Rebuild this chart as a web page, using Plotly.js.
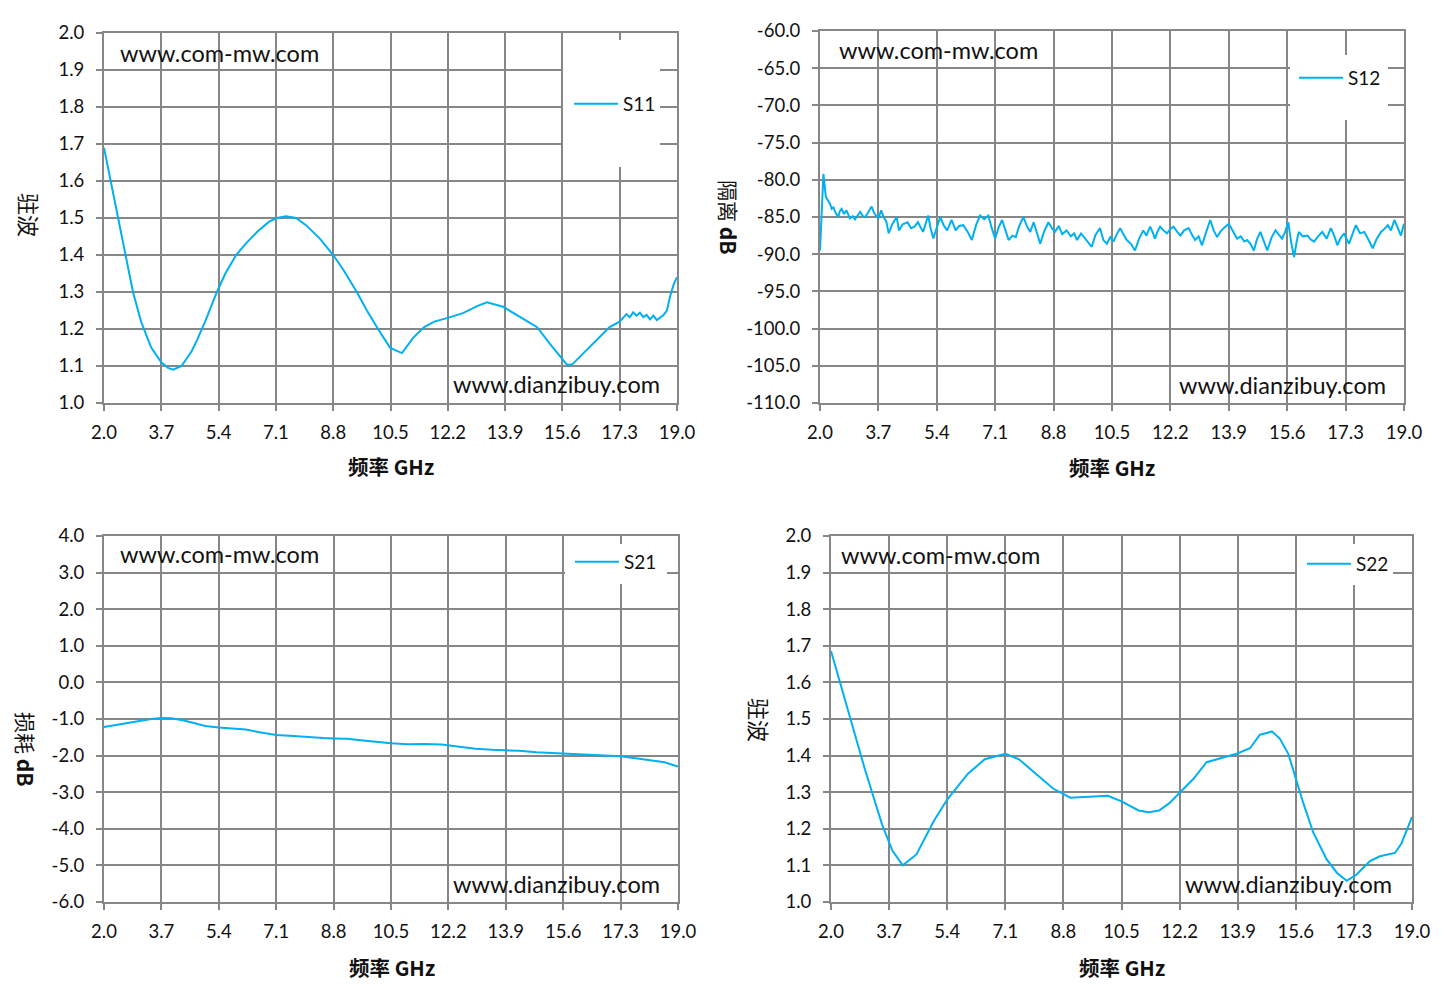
<!DOCTYPE html>
<html>
<head>
<meta charset="utf-8">
<script src="https://cdn.plot.ly/plotly-3.0.1.min.js"></script>
<style>
  html, body { margin: 0; padding: 0; background: #fff; }
  #chart { width: 1445px; height: 999px; }
</style>
</head>
<body>
<div id="chart"></div>
<script>
// S11 驻波
var s11_freq = [2.0, 2.2, 2.4, 2.6, 2.86, 3.1, 3.4, 3.7, 3.9, 4.05, 4.3, 4.6, 4.76, 5.0, 5.35, 5.6, 5.92, 6.2, 6.57, 6.9,
  7.13, 7.4, 7.7, 8.0, 8.4, 8.8, 9.1, 9.5, 9.8, 10.13, 10.49, 10.84, 11.17, 11.5, 11.8, 12.2, 12.65, 13.07, 13.36, 13.84,
  14.34, 14.85, 15.23, 15.53, 15.74, 15.9, 16.12, 16.5, 17.0, 17.3, 17.5, 17.6, 17.7, 17.8, 17.9, 18.0, 18.1, 18.2, 18.3, 18.4,
  18.5, 18.6, 18.7, 18.8, 18.9, 19.0];
var s11_vswr = [1.69, 1.60, 1.50, 1.42, 1.30, 1.22, 1.15, 1.11, 1.095, 1.09, 1.10, 1.14, 1.17, 1.22, 1.30, 1.35, 1.40, 1.43, 1.465, 1.49,
  1.50, 1.505, 1.50, 1.48, 1.445, 1.40, 1.36, 1.30, 1.25, 1.20, 1.149, 1.135, 1.176, 1.205, 1.22, 1.23, 1.243, 1.262, 1.272, 1.26,
  1.232, 1.205, 1.16, 1.125, 1.103, 1.105, 1.125, 1.16, 1.205, 1.22, 1.24, 1.232, 1.245, 1.236, 1.244, 1.232, 1.238, 1.226, 1.236, 1.224,
  1.232, 1.238, 1.25, 1.29, 1.32, 1.34];

// S12 隔离 dB
var s12_freq = [2.0, 2.05, 2.1, 2.17, 2.23, 2.29, 2.34, 2.39, 2.46, 2.53, 2.58, 2.63, 2.7, 2.77, 2.87, 2.95, 3.02, 3.1, 3.17, 3.25,
  3.32, 3.4, 3.5, 3.58, 3.7, 3.78, 3.85, 3.93, 4.0, 4.1, 4.23, 4.3, 4.4, 4.55, 4.65, 4.75, 4.85, 5.0, 5.15, 5.22,
  5.3, 5.4, 5.5, 5.6, 5.7, 5.83, 5.95, 6.05, 6.17, 6.3, 6.42, 6.55, 6.66, 6.78, 6.9, 7.0, 7.1, 7.2, 7.3, 7.4,
  7.49, 7.6, 7.7, 7.8, 7.92, 8.02, 8.12, 8.22, 8.3, 8.41, 8.52, 8.65, 8.75, 8.84, 8.95, 9.05, 9.18, 9.3, 9.4, 9.48,
  9.6, 9.7, 9.8, 9.91, 10.02, 10.15, 10.25, 10.35, 10.45, 10.54, 10.64, 10.74, 10.84, 10.93, 11.05, 11.17, 11.28, 11.41, 11.5, 11.61,
  11.68, 11.75, 11.82, 11.9, 12.0, 12.1, 12.2, 12.29, 12.4, 12.49, 12.6, 12.73, 12.83, 12.92, 13.02, 13.12, 13.25, 13.36, 13.46, 13.56,
  13.65, 13.75, 13.9, 14.02, 14.14, 14.25, 14.35, 14.43, 14.53, 14.63, 14.72, 14.82, 14.92, 15.02, 15.14, 15.26, 15.36, 15.45, 15.55, 15.63,
  15.72, 15.8, 15.88, 15.94, 16.05, 16.19, 16.28, 16.38, 16.5, 16.62, 16.75, 16.87, 16.96, 17.06, 17.16, 17.26, 17.33, 17.4, 17.5, 17.6,
  17.72, 17.84, 17.96, 18.09, 18.2, 18.33, 18.43, 18.53, 18.62, 18.72, 18.82, 18.91, 19.0];
var s12_db = [-89.5, -84.0, -79.2, -82.3, -82.8, -83.2, -83.9, -83.7, -84.5, -85.0, -84.2, -83.9, -84.6, -84.1, -85.2, -84.9, -85.3, -84.8, -84.3, -84.9,
  -85.0, -84.4, -83.6, -84.5, -85.2, -84.1, -85.0, -85.6, -87.2, -86.0, -85.0, -86.8, -86.0, -85.7, -86.5, -86.3, -85.7, -87.0, -84.8, -86.5,
  -87.9, -86.4, -85.0, -86.1, -86.8, -85.4, -86.8, -86.2, -86.1, -87.0, -88.1, -86.0, -84.8, -85.3, -84.8, -86.5, -87.9, -86.4, -85.4, -86.8,
  -88.1, -87.5, -87.7, -86.2, -85.0, -86.2, -87.0, -85.7, -86.8, -88.6, -87.0, -85.7, -86.5, -87.0, -86.2, -87.3, -86.8, -87.6, -87.2, -88.1,
  -87.2, -87.8, -88.3, -89.0, -87.4, -86.5, -88.1, -88.6, -87.7, -88.3, -87.3, -86.5, -87.4, -88.1, -88.6, -89.5, -88.0, -86.8, -87.5, -86.3,
  -87.0, -87.9, -87.0, -86.3, -86.8, -87.2, -86.6, -86.3, -87.0, -87.5, -86.8, -86.5, -87.4, -88.1, -87.6, -88.8, -86.9, -85.4, -86.8, -87.7,
  -87.0, -86.5, -85.9, -86.9, -87.9, -87.6, -88.3, -88.1, -88.6, -89.5, -88.0, -87.0, -88.2, -89.5, -87.8, -86.8, -87.4, -87.9, -86.9, -85.7,
  -88.5, -90.4, -88.2, -87.0, -87.6, -87.5, -88.0, -88.3, -87.6, -87.0, -87.9, -86.5, -87.4, -88.8, -87.8, -87.2, -88.0, -88.6, -87.3, -86.1,
  -87.2, -87.0, -88.0, -89.2, -88.0, -87.0, -86.6, -86.1, -86.8, -85.4, -86.5, -87.5, -85.9];

// S21 损耗 dB
var s21_freq = [2.0, 2.5, 3.0, 3.4, 3.7, 4.0, 4.4, 5.0, 5.4, 5.8, 6.2, 6.6, 7.1, 7.5, 8.0, 8.5, 8.8, 9.2, 9.6, 10.0,
  10.5, 11.0, 11.5, 12.0, 12.5, 13.0, 13.5, 13.9, 14.3, 14.8, 15.2, 15.6, 16.0, 16.5, 17.0, 17.3, 17.8, 18.2, 18.6, 19.0];
var s21_db = [-1.22, -1.14, -1.05, -1.00, -0.97, -0.98, -1.05, -1.19, -1.23, -1.25, -1.29, -1.36, -1.44, -1.46, -1.50, -1.52, -1.53, -1.54, -1.58, -1.62,
  -1.66, -1.69, -1.68, -1.70, -1.76, -1.81, -1.84, -1.85, -1.87, -1.91, -1.93, -1.93, -1.96, -1.99, -2.00, -2.02, -2.08, -2.13, -2.18, -2.30];

// S22 驻波
var s22_freq = [2.0, 2.5, 3.0, 3.5, 3.8, 4.1, 4.5, 5.0, 5.4, 6.0, 6.5, 7.1, 7.5, 8.0, 8.5, 9.0, 9.5, 10.1, 10.5, 11.0,
  11.3, 11.6, 11.9, 12.21, 12.6, 12.99, 13.38, 13.87, 14.26, 14.55, 14.75, 14.9, 15.0, 15.14, 15.38, 15.58, 15.82, 16.11, 16.5, 16.8,
  17.09, 17.38, 17.77, 18.06, 18.5, 18.69, 19.0];
var s22_vswr = [1.686, 1.52, 1.36, 1.21, 1.14, 1.10, 1.13, 1.22, 1.28, 1.35, 1.39, 1.405, 1.39, 1.35, 1.31, 1.285, 1.288, 1.29, 1.275, 1.25,
  1.245, 1.25, 1.27, 1.30, 1.336, 1.382, 1.393, 1.405, 1.42, 1.457, 1.462, 1.466, 1.458, 1.445, 1.405, 1.345, 1.27, 1.19, 1.117, 1.08,
  1.058, 1.075, 1.112, 1.125, 1.134, 1.16, 1.232];

// tick labels (Excel style, plain hyphen minus)
var freq_ticks = [2.0, 3.7, 5.4, 7.1, 8.8, 10.5, 12.2, 13.9, 15.6, 17.3, 19.0];
var freq_labels = ['2.0', '3.7', '5.4', '7.1', '8.8', '10.5', '12.2', '13.9', '15.6', '17.3', '19.0'];
var vswr_ticks = [1.0, 1.1, 1.2, 1.3, 1.4, 1.5, 1.6, 1.7, 1.8, 1.9, 2.0];
var vswr_labels = ['1.0', '1.1', '1.2', '1.3', '1.4', '1.5', '1.6', '1.7', '1.8', '1.9', '2.0'];
var iso_ticks = [-110, -105, -100, -95, -90, -85, -80, -75, -70, -65, -60];
var iso_labels = ['-110.0', '-105.0', '-100.0', '-95.0', '-90.0', '-85.0', '-80.0', '-75.0', '-70.0', '-65.0', '-60.0'];
var loss_ticks = [-6, -5, -4, -3, -2, -1, 0, 1, 2, 3, 4];
var loss_labels = ['-6.0', '-5.0', '-4.0', '-3.0', '-2.0', '-1.0', '0.0', '1.0', '2.0', '3.0', '4.0'];

var W = 1445, H = 999;
function px(x) { return x / W; }
function py(y) { return 1 - y / H; }

var lineColor = '#00B0F0';
var gridColor = '#878787';
var numFont = 'Lato, "Open Sans", sans-serif';
var cjkFont = '"Noto Sans CJK SC", sans-serif';

function trace(x, y, name, n) {
  return {
    x: x, y: y, name: name, type: 'scatter', mode: 'lines',
    line: {color: lineColor, width: 2},
    xaxis: n === 1 ? 'x' : 'x' + n,
    yaxis: n === 1 ? 'y' : 'y' + n,
    legend: n === 1 ? 'legend' : 'legend' + n
  };
}

function baseAxis() {
  return {
    showgrid: true, gridcolor: gridColor, gridwidth: 2,
    showline: true, linecolor: gridColor, linewidth: 2, mirror: true,
    ticks: 'outside', ticklen: 6, tickwidth: 2, tickcolor: gridColor,
    tickmode: 'array',
    tickfont: {family: numFont, size: 18.5, color: '#111'},
    zeroline: false, fixedrange: true
  };
}

function xAxis(dom, anchor) {
  var a = baseAxis();
  a.domain = dom; a.anchor = anchor; a.range = [2, 19];
  a.tickvals = freq_ticks; a.ticktext = freq_labels;
  a.ticklabelstandoff = 6;
  return a;
}

function yAxis(dom, anchor, range, vals, labels) {
  var a = baseAxis();
  a.domain = dom; a.anchor = anchor; a.range = range;
  a.tickvals = vals; a.ticktext = labels;
  a.ticklabelstandoff = 8;
  return a;
}

var data = [
  trace(s11_freq, s11_vswr, 'S11', 1),
  trace(s12_freq, s12_db, 'S12', 2),
  trace(s21_freq, s21_db, 'S21', 3),
  trace(s22_freq, s22_vswr, 'S22', 4)
];

function legendAt(x, y) {
  return {
    x: px(x), y: py(y), xanchor: 'left', yanchor: 'middle',
    bgcolor: 'rgba(0,0,0,0)', borderwidth: 0, itemwidth: 44,
    font: {family: numFont, size: 19, color: '#111'}
  };
}

function whiteBox(x0, y0, x1, y1) {
  return {
    type: 'rect', xref: 'paper', yref: 'paper', layer: 'above',
    x0: px(x0), x1: px(x1), y0: py(y1), y1: py(y0),
    fillcolor: '#fff', line: {width: 0}
  };
}

function note(text, x, y, size, angle) {
  return {
    text: text, xref: 'paper', yref: 'paper', x: px(x), y: py(y),
    xanchor: 'center', yanchor: 'middle', showarrow: false,
    textangle: angle || 0,
    font: {family: cjkFont, size: size, color: '#111'}
  };
}

function mark(text, x, y, xanchor) {
  return {
    text: text, xref: 'paper', yref: 'paper', x: px(x), y: py(y),
    xanchor: xanchor, yanchor: 'middle', showarrow: false,
    font: {family: numFont, size: 23.5, color: '#111'}
  };
}

var layout = {
  width: W, height: H,
  margin: {l: 0, r: 0, t: 0, b: 0},
  paper_bgcolor: '#fff', plot_bgcolor: '#fff',
  showlegend: true,
  xaxis: xAxis([px(104), px(677)], 'y'),
  yaxis: yAxis([py(403), py(33)], 'x', [1, 2], vswr_ticks, vswr_labels),
  xaxis2: xAxis([px(820), px(1404)], 'y2'),
  yaxis2: yAxis([py(403), py(31)], 'x2', [-110, -60], iso_ticks, iso_labels),
  xaxis3: xAxis([px(104), px(678)], 'y3'),
  yaxis3: yAxis([py(902), py(536)], 'x3', [-6, 4], loss_ticks, loss_labels),
  xaxis4: xAxis([px(831), px(1412)], 'y4'),
  yaxis4: yAxis([py(902), py(536)], 'x4', [1, 2], vswr_ticks, vswr_labels),
  legend: legendAt(569, 104),
  legend2: legendAt(1294, 78),
  legend3: legendAt(570, 562),
  legend4: legendAt(1302, 564),
  shapes: [
    whiteBox(563, 40, 660, 167),
    whiteBox(1290, 55, 1388, 120),
    whiteBox(565, 544, 667, 584),
    whiteBox(1297, 544, 1393, 585)
  ],
  annotations: [
    mark('www.com-mw.com', 118, 53, 'left'),
    mark('www.dianzibuy.com', 662, 384, 'right'),
    mark('www.com-mw.com', 837, 50, 'left'),
    mark('www.dianzibuy.com', 1388, 385, 'right'),
    mark('www.com-mw.com', 118, 554, 'left'),
    mark('www.dianzibuy.com', 662, 884, 'right'),
    mark('www.com-mw.com', 839, 555, 'left'),
    mark('www.dianzibuy.com', 1394, 884, 'right'),
    note('<b>频率 GHz</b>', 391, 466, 20.5),
    note('<b>频率 GHz</b>', 1112, 467, 20.5),
    note('<b>频率 GHz</b>', 392, 967, 20.5),
    note('<b>频率 GHz</b>', 1122, 967, 20.5),
    note('驻波', 30, 215, 22, 90),
    note('隔离 <b>dB</b>', 729, 218, 21, 90),
    note('损耗 <b>dB</b>', 26, 749, 21, 90),
    note('驻波', 760, 720, 22, 90)
  ]
};

Plotly.newPlot('chart', data, layout, {displayModeBar: false, staticPlot: true});
</script>
</body>
</html>
